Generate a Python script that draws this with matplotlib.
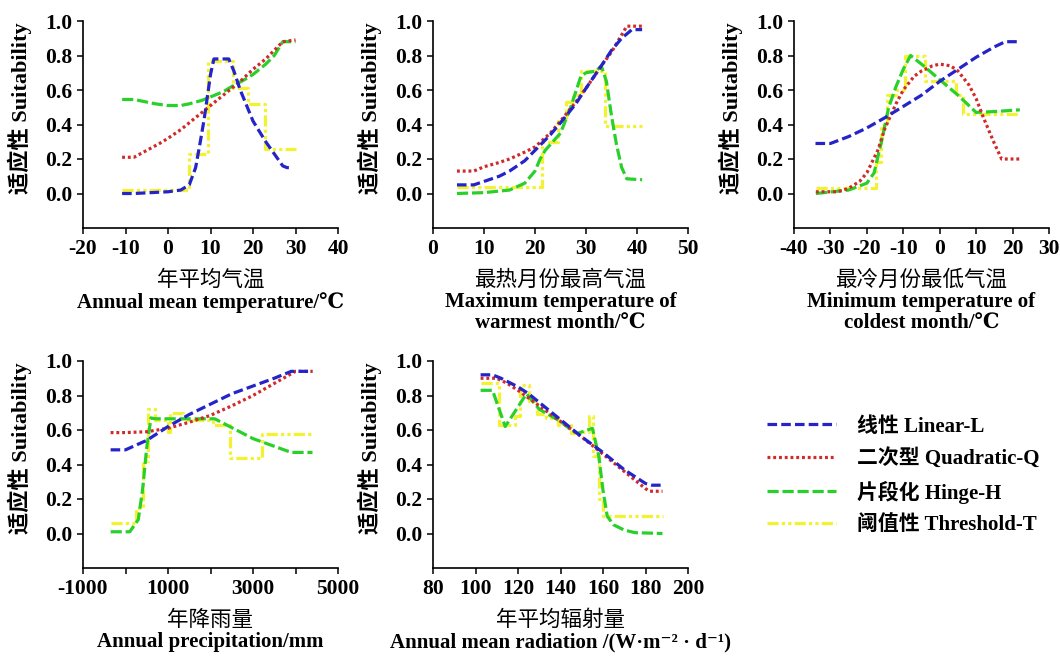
import numpy as np
import matplotlib
matplotlib.use("Agg")
import matplotlib.pyplot as plt
from matplotlib.lines import Line2D

plt.rcParams['font.family'] = ['Liberation Serif', 'DejaVu Serif', 'Noto Sans CJK SC']
EN_FAM = ['Liberation Serif', 'DejaVu Serif', 'Noto Sans CJK SC']

C_BLUE = '#2424c8'
C_RED = '#d02a2a'
C_GREEN = '#2ad02a'
C_YELLOW = '#f2f230'

# ---- panel 1: annual mean temperature
p1_lin_x = [-10.8, -8, -4, 0, 3, 5, 6.5, 7.6, 8.5, 9.2, 10, 10.8, 14.3, 15.5, 17, 18.5, 20, 21.5, 23, 25, 27, 28, 29.4]
p1_lin_y = [0.0, 0.0, 0.005, 0.01, 0.02, 0.05, 0.15, 0.3, 0.43, 0.55, 0.69, 0.78, 0.78, 0.71, 0.6, 0.51, 0.42, 0.36, 0.3, 0.23, 0.16, 0.15, 0.15]
p1_quad_x = [-10.8, -8, -5, -2, 0, 3, 6, 10, 14, 17, 20, 23, 25, 27, 30]
p1_quad_y = [0.21, 0.21, 0.25, 0.29, 0.32, 0.37, 0.43, 0.51, 0.59, 0.65, 0.72, 0.78, 0.83, 0.88, 0.89]
p1_hinge_x = [-10.8, -8, -5, -3, 0, 3, 5, 8, 10, 13, 15, 18, 20, 23, 25, 27, 30]
p1_hinge_y = [0.545, 0.545, 0.53, 0.52, 0.51, 0.51, 0.52, 0.54, 0.56, 0.59, 0.62, 0.66, 0.69, 0.75, 0.8, 0.88, 0.88]
p1_thr_edges = [-10.8, 5.0, 9.5, 15.3, 18.8, 22.8, 30]
p1_thr_vals = [0.02, 0.23, 0.77, 0.61, 0.52, 0.26]

# ---- panel 2: maximum temperature of warmest month
p2_lin_x = [4.7, 8, 10, 13, 15, 18, 20, 23, 25, 28, 30, 33, 35, 37, 39, 41]
p2_lin_y = [0.05, 0.05, 0.07, 0.1, 0.13, 0.19, 0.25, 0.34, 0.41, 0.52, 0.61, 0.74, 0.83, 0.9, 0.95, 0.95]
p2_quad_x = [4.7, 8, 10, 13, 15, 18, 20, 23, 25, 28, 30, 33, 35, 38, 41]
p2_quad_y = [0.13, 0.13, 0.155, 0.18, 0.2, 0.24, 0.27, 0.35, 0.42, 0.53, 0.61, 0.74, 0.82, 0.97, 0.97]
p2_hinge_x = [4.7, 10, 15, 18, 20, 21, 22, 25, 27, 29, 30, 32, 33, 34, 35, 36, 37, 38, 41]
p2_hinge_y = [0.0, 0.005, 0.02, 0.06, 0.13, 0.2, 0.25, 0.35, 0.5, 0.68, 0.7, 0.71, 0.74, 0.65, 0.45, 0.28, 0.15, 0.085, 0.08]
p2_thr_edges = [4.7, 21.3, 24.5, 26.0, 27.5, 29.0, 33.8, 41]
p2_thr_vals = [0.04, 0.30, 0.42, 0.53, 0.57, 0.71, 0.39]

# ---- panel 3: minimum temperature of coldest month
p3_lin_x = [-34.1, -30, -25, -20, -15, -10, -5, 0, 5, 10, 15, 18, 22]
p3_lin_y = [0.29, 0.29, 0.33, 0.38, 0.44, 0.505, 0.57, 0.65, 0.72, 0.79, 0.85, 0.88, 0.88]
p3_quad_x = [-34, -28, -25, -22, -20, -17, -15, -12, -10, -7, -5, -2, 0, 3, 5, 8, 10, 12, 15, 17, 22]
p3_quad_y = [0.01, 0.01, 0.03, 0.07, 0.12, 0.25, 0.38, 0.52, 0.6, 0.68, 0.71, 0.74, 0.75, 0.74, 0.71, 0.63, 0.55, 0.44, 0.29, 0.2, 0.2]
p3_hinge_x = [-34, -25, -20, -18, -16, -14, -12, -10, -8, -5, 0, 5, 10, 15, 22]
p3_hinge_y = [0.0, 0.02, 0.06, 0.12, 0.3, 0.5, 0.62, 0.72, 0.8, 0.75, 0.66, 0.57, 0.47, 0.475, 0.485]
p3_thr_edges = [-34, -17.5, -16, -14.5, -12, -9.5, -4, 4.5, 6.5, 22]
p3_thr_vals = [0.03, 0.18, 0.40, 0.57, 0.60, 0.80, 0.65, 0.57, 0.46]

# ---- panel 4: annual precipitation
p4_lin_x = [-350, 0, 500, 1000, 1500, 2000, 2500, 3000, 3500, 3900, 4400]
p4_lin_y = [0.485, 0.485, 0.54, 0.62, 0.69, 0.75, 0.81, 0.855, 0.9, 0.94, 0.94]
p4_quad_x = [-350, 0, 500, 1000, 1500, 2000, 2500, 3000, 3500, 4000, 4400]
p4_quad_y = [0.585, 0.585, 0.59, 0.61, 0.645, 0.685, 0.74, 0.8, 0.87, 0.94, 0.94]
p4_hinge_x = [-350, 100, 300, 400, 500, 600, 700, 1000, 2100, 3000, 3900, 4400]
p4_hinge_y = [0.01, 0.01, 0.08, 0.25, 0.5, 0.67, 0.665, 0.665, 0.665, 0.55, 0.47, 0.47]
p4_thr_edges = [-350, 250, 400, 520, 700, 1000, 1050, 1350, 2050, 2450, 3200, 4400]
p4_thr_vals = [0.06, 0.15, 0.42, 0.72, 0.66, 0.59, 0.70, 0.66, 0.63, 0.44, 0.575]

# ---- panel 5: annual mean radiation
p5_lin_x = [102.4, 108, 112, 120, 125, 130, 140, 150, 160, 165, 170, 175, 180, 183, 188]
p5_lin_y = [0.92, 0.92, 0.9, 0.85, 0.81, 0.76, 0.66, 0.56, 0.47, 0.42, 0.37, 0.33, 0.29, 0.28, 0.28]
p5_quad_x = [102.4, 110, 115, 120, 130, 140, 150, 160, 170, 175, 180, 182, 188]
p5_quad_y = [0.9, 0.9, 0.87, 0.83, 0.74, 0.65, 0.56, 0.46, 0.36, 0.31, 0.26, 0.245, 0.245]
p5_hinge_x = [102.4, 108, 114, 124, 130, 140, 145, 148, 155, 158, 160, 162, 165, 170, 175, 188]
p5_hinge_y = [0.83, 0.83, 0.62, 0.81, 0.72, 0.65, 0.6, 0.58, 0.61, 0.45, 0.25, 0.1, 0.05, 0.02, 0.005, 0.0]
p5_thr_edges = [102.4, 111, 118.5, 121, 125, 129, 133, 139, 145, 150, 153.5, 155.5, 158, 160, 188]
p5_thr_vals = [0.87, 0.63, 0.68, 0.86, 0.77, 0.69, 0.67, 0.63, 0.58, 0.59, 0.68, 0.45, 0.2, 0.1]

panels = [
    dict(lin=(p1_lin_x, p1_lin_y), quad=(p1_quad_x, p1_quad_y), hinge=(p1_hinge_x, p1_hinge_y),
         thr=(p1_thr_edges, p1_thr_vals), xlim=(-20, 40), xt=np.arange(-20, 41, 10), xl=None,
         cn='年平均气温', en='Annual mean temperature/℃', pos=(83, 21)),
    dict(lin=(p2_lin_x, p2_lin_y), quad=(p2_quad_x, p2_quad_y), hinge=(p2_hinge_x, p2_hinge_y),
         thr=(p2_thr_edges, p2_thr_vals), xlim=(0, 50), xt=np.arange(0, 51, 10), xl=None,
         cn='最热月份最高气温', en='Maximum temperature of\nwarmest month/℃', pos=(433, 21)),
    dict(lin=(p3_lin_x, p3_lin_y), quad=(p3_quad_x, p3_quad_y), hinge=(p3_hinge_x, p3_hinge_y),
         thr=(p3_thr_edges, p3_thr_vals), xlim=(-40, 30), xt=np.arange(-40, 31, 10), xl=None,
         cn='最冷月份最低气温', en='Minimum temperature of\ncoldest month/℃', pos=(794, 21)),
    dict(lin=(p4_lin_x, p4_lin_y), quad=(p4_quad_x, p4_quad_y), hinge=(p4_hinge_x, p4_hinge_y),
         thr=(p4_thr_edges, p4_thr_vals), xlim=(-1000, 5000), xt=np.arange(-1000, 5001, 1000),
         xl=['-1000', '', '1000', '', '3000', '', '5000'],
         cn='年降雨量', en='Annual precipitation/mm', pos=(83, 361)),
    dict(lin=(p5_lin_x, p5_lin_y), quad=(p5_quad_x, p5_quad_y), hinge=(p5_hinge_x, p5_hinge_y),
         thr=(p5_thr_edges, p5_thr_vals), xlim=(80, 200), xt=np.arange(80, 201, 20), xl=None,
         cn='年平均辐射量', en='Annual mean radiation /(W·m⁻² · d⁻¹)', pos=(433, 361)),
]

W, H = 1060, 661
fig = plt.figure(figsize=(W / 100, H / 100), dpi=100)

styles = dict(
    lin=dict(color=C_BLUE, ls=(0, (3, 1.3)), lw=2.3),
    quad=dict(color=C_RED, ls=(0, (0.9, 0.9)), lw=2.3),
    hinge=dict(color=C_GREEN, ls=(0, (3.5, 1.2)), lw=2.3),
    thr=dict(color=C_YELLOW, ls=(0, (3.5, 1, 1, 1, 1, 1)), lw=2.3),
)

tick_font = dict(family='Liberation Serif', weight='bold', size=15.5)

for p in panels:
    left, top = p['pos']
    ax = fig.add_axes([left / W, 1 - (top + 207) / H, 255 / W, 207 / H])
    e, v = p['thr']
    ax.plot(e, list(v) + [v[-1]], drawstyle='steps-post', **styles['thr'])
    ax.plot(*p['hinge'], **styles['hinge'])
    ax.plot(*p['quad'], **styles['quad'])
    ax.plot(*p['lin'], **styles['lin'])
    ax.set_xlim(*p['xlim'])
    ax.set_ylim(-0.2, 1.0)
    ax.set_yticks(np.arange(0, 1.01, 0.2))
    ax.set_yticklabels(['%.1f' % t for t in np.arange(0, 1.01, 0.2)], fontdict=tick_font)
    ax.set_xticks(p['xt'])
    labs = p['xl'] if p['xl'] is not None else [str(int(t)) for t in p['xt']]
    ax.set_xticklabels(labs, fontdict=tick_font)
    for s in ['top', 'right']:
        ax.spines[s].set_visible(False)
    for s in ['left', 'bottom']:
        ax.spines[s].set_linewidth(1.2)
    ax.tick_params(axis='both', direction='out', length=4, width=1.1, pad=4)
    ax.set_ylabel('适应性 Suitability', fontsize=16, fontweight='bold',
                  family=['Liberation Serif', 'Noto Sans CJK SC'])
    ax.yaxis.set_label_coords(-0.20, 0.58)
    ax.annotate(p['cn'], xy=(0.5, 0), xycoords='axes fraction', xytext=(0, -52),
                textcoords='offset pixels', ha='center', va='center', fontsize=15.5,
                family=['Noto Sans CJK SC'])
    ax.annotate(p['en'], xy=(0.5, 0), xycoords='axes fraction', xytext=(0, -64),
                textcoords='offset pixels', ha='center', va='top', fontsize=15,
                fontweight='bold', family=EN_FAM, linespacing=1.15)

labels = ['线性 Linear-L', '二次型 Quadratic-Q', '片段化 Hinge-H', '阈值性 Threshold-T']
handles = [Line2D([], [], **styles[k]) for k in ['lin', 'quad', 'hinge', 'thr']]
fig.legend(handles, labels, loc='upper left', bbox_to_anchor=(748 / W, 1 - 398 / H),
           frameon=False, handlelength=3.3, labelspacing=0.55, handletextpad=1.05,
           prop=dict(family=['Liberation Serif', 'Noto Sans CJK SC'], weight='bold', size=15))

fig.savefig('out.png', dpi=100)
